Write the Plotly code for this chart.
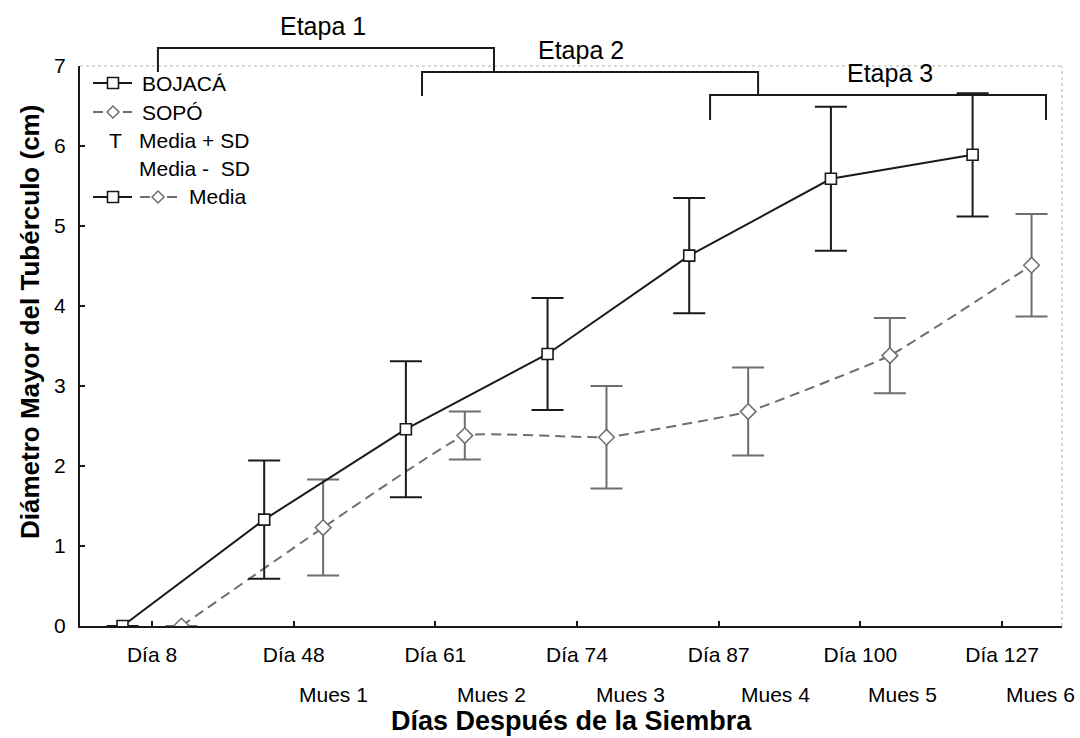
import plotly.graph_objects as go

# ---------------- data ----------------
dias = ["Día 8", "Día 48", "Día 61", "Día 74", "Día 87", "Día 100", "Día 127"]
muestras = ["Mues 1", "Mues 2", "Mues 3", "Mues 4", "Mues 5", "Mues 6"]
bojaca_media = [0.0, 1.33, 2.46, 3.40, 4.63, 5.59, 5.89]
bojaca_sd = [0.0, 0.74, 0.85, 0.70, 0.72, 0.90, 0.77]
sopo_media = [0.0, 1.23, 2.38, 2.36, 2.68, 3.38, 4.51]
sopo_sd = [0.0, 0.60, 0.30, 0.64, 0.55, 0.47, 0.64]
etapas = ["Etapa 1", "Etapa 2", "Etapa 3"]

# ---------------- layout geometry ----------------
W, H = 1080, 738
ML, MR, MT, MB = 80, 18, 66, 112
PW = W - ML - MR
PH = H - MT - MB


def fx(px):
    return (px - ML) / PW


def fy(py):
    return (H - MB - py) / PH


FONT = "Liberation Sans, Arial, sans-serif"
BLACK = "#1a1a1a"
GRAY = "#6e6e6e"

idx = list(range(len(dias)))
offset = 0.208
x_b = [i - offset for i in idx]
x_s = [i + offset for i in idx]

fig = go.Figure()

fig.add_trace(go.Scatter(
    x=x_s, y=sopo_media, mode="lines+markers", name="SOPÓ",
    line=dict(color=GRAY, width=2, dash="10px,6px", shape="spline", smoothing=0.3),
    marker=dict(symbol="diamond", size=12, color="white", line=dict(color=GRAY, width=1.5)),
    error_y=dict(type="data", array=sopo_sd, color=GRAY, thickness=2, width=16),
))
fig.add_trace(go.Scatter(
    x=x_b, y=bojaca_media, mode="lines+markers", name="BOJACÁ",
    line=dict(color=BLACK, width=2),
    marker=dict(symbol="square", size=11, color="white", line=dict(color=BLACK, width=1.6)),
    error_y=dict(type="data", array=bojaca_sd, color=BLACK, thickness=2, width=16),
))

shapes = []
annotations = []

# plot frame: dotted top and right borders
shapes.append(dict(type="line", xref="paper", yref="paper", x0=0, x1=1, y0=1, y1=1,
                   line=dict(color="#b5b5b5", width=1, dash="dot")))
shapes.append(dict(type="line", xref="paper", yref="paper", x0=1, x1=1, y0=0, y1=1,
                   line=dict(color="#b5b5b5", width=1, dash="dot")))

# Etapa brackets (x in category units, y in pixels)
bracket_x = [(0.042, 2.414), (1.906, 4.278), (3.939, 6.31)]
bracket_y = [(48, 72), (72, 96), (95, 120)]
label_x = [1.21, 3.03, 5.21]
label_y = [26, 50, 73]
for name, (a, b), (ytop, ybot), lx, ly in zip(etapas, bracket_x, bracket_y, label_x, label_y):
    path = "M {a},{yb} L {a},{yt} L {b},{yt} L {b},{yb}".format(
        a=a, b=b, yt=fy(ytop), yb=fy(ybot))
    shapes.append(dict(type="path", xref="x", yref="paper", path=path,
                       line=dict(color=BLACK, width=2)))
    annotations.append(dict(text=name, x=lx, xref="x", y=fy(ly), yref="paper",
                            showarrow=False, xanchor="center", yanchor="middle",
                            font=dict(size=25, color="black", family=FONT)))

# Mues labels under the axis
mues_pos = [1.278, 2.393, 3.374, 4.398, 5.294, 6.268]
for t, p in zip(muestras, mues_pos):
    annotations.append(dict(text=t, x=p, xref="x", y=fy(694), yref="paper",
                            showarrow=False, xanchor="center", yanchor="middle",
                            font=dict(size=21, color="black", family=FONT)))

# axis titles
annotations.append(dict(text="<b>Días Después de la Siembra</b>", x=fx(571), xref="paper",
                        y=fy(721), yref="paper", showarrow=False, xanchor="center",
                        yanchor="middle", font=dict(size=27, color="black", family=FONT)))
annotations.append(dict(text="<b>Diámetro Mayor del Tubérculo (cm)</b>", x=fx(30), xref="paper",
                        y=fy(322), yref="paper", showarrow=False, xanchor="center",
                        yanchor="middle", textangle=-90,
                        font=dict(size=26, color="black", family=FONT)))

# custom legend
def legend_square(cx, cy, color):
    s = 5.5
    shapes.append(dict(type="rect", xref="paper", yref="paper",
                       x0=fx(cx - s), x1=fx(cx + s), y0=fy(cy + s), y1=fy(cy - s),
                       fillcolor="white", line=dict(color=color, width=1.6)))


def legend_diamond(cx, cy, color):
    s = 6
    path = "M {},{} L {},{} L {},{} L {},{} Z".format(
        fx(cx - s), fy(cy), fx(cx), fy(cy - s), fx(cx + s), fy(cy), fx(cx), fy(cy + s))
    shapes.append(dict(type="path", xref="paper", yref="paper", path=path,
                       fillcolor="white", line=dict(color=color, width=1.5)))


def legend_line(x0, x1, cy, color, dash="solid"):
    shapes.append(dict(type="line", xref="paper", yref="paper",
                       x0=fx(x0), x1=fx(x1), y0=fy(cy), y1=fy(cy),
                       line=dict(color=color, width=2, dash=dash)))


def legend_text(t, x, cy):
    annotations.append(dict(text=t, x=fx(x), xref="paper", y=fy(cy), yref="paper",
                            showarrow=False, xanchor="left", yanchor="middle",
                            font=dict(size=21, color="black", family=FONT)))


rows = [83, 112, 140, 168, 197]
legend_line(93, 132, rows[0], BLACK)
legend_square(113, rows[0], BLACK)
legend_text("BOJACÁ", 140, rows[0])

legend_line(93, 103, rows[1], GRAY)
legend_line(123, 132, rows[1], GRAY)
legend_diamond(113, rows[1], GRAY)
legend_text("SOPÓ", 140, rows[1])

annotations.append(dict(text="T", x=fx(115), xref="paper", y=fy(rows[2]), yref="paper",
                        showarrow=False, xanchor="center", yanchor="middle",
                        font=dict(size=21, color="black", family=FONT)))
legend_text("Media + SD", 137, rows[2])
legend_text("Media -\u00a0 SD", 137, rows[3])

legend_line(93, 132, rows[4], BLACK)
legend_square(113, rows[4], BLACK)
legend_line(140, 150, rows[4], GRAY)
legend_line(167, 177, rows[4], GRAY)
legend_diamond(158, rows[4], GRAY)
legend_text("Media", 187, rows[4])

fig.update_layout(
    width=W, height=H,
    margin=dict(l=ML, r=MR, t=MT, b=MB, pad=0),
    paper_bgcolor="white", plot_bgcolor="white",
    showlegend=False,
    font=dict(family=FONT, size=21, color="black"),
    shapes=shapes, annotations=annotations,
    xaxis=dict(range=[-0.508, 6.423], tickmode="array", tickvals=idx, ticktext=dias,
               showgrid=False, zeroline=False, showline=True, linecolor=BLACK, linewidth=2,
               ticks="inside", ticklen=5, tickwidth=1.5, tickcolor=BLACK,
               ticklabelstandoff=9, tickfont=dict(size=21, family=FONT, color="black")),
    yaxis=dict(range=[0, 7], tickmode="linear", tick0=0, dtick=1,
               showgrid=False, zeroline=False, showline=True, linecolor=BLACK, linewidth=2,
               ticks="inside", ticklen=5, tickwidth=1.5, tickcolor=BLACK,
               ticklabelstandoff=8, tickfont=dict(size=21, family=FONT, color="black")),
)

fig.write_html("out.html", config={"displayModeBar": False},
               post_script="document.body.style.margin='0';")
